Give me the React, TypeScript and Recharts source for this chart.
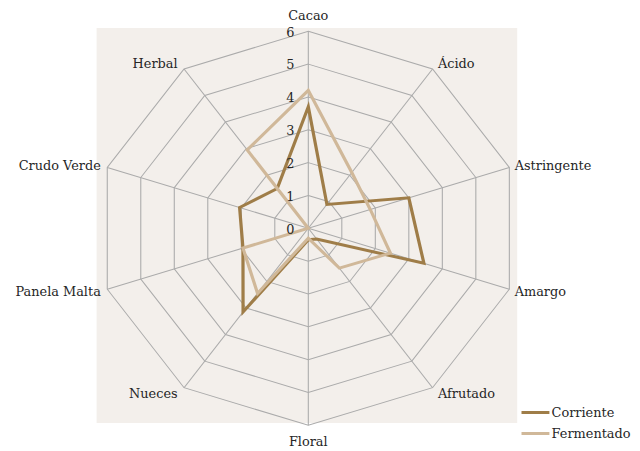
import React from 'react';
import { RadarChart, Radar, PolarGrid, PolarAngleAxis, PolarRadiusAxis, Legend } from 'recharts';

const attributes = ['Cacao', 'Ácido', 'Astringente', 'Amargo', 'Afrutado', 'Floral', 'Nueces', 'Panela Malta', 'Crudo Verde', 'Herbal'];
const corriente = [3.7, 0.9, 3.0, 3.45, 0.4, 0.35, 3.15, 1.95, 2.05, 1.5];
const fermentado = [4.2, 2.1, 1.85, 2.45, 1.5, 0.3, 2.45, 1.95, 0.0, 2.95];
const radiusTicks = [0, 1, 2, 3, 4, 5, 6];
const seriesNames = ['Corriente', 'Fermentado'];
const seriesColors = ['#9f7d48', '#d0b899'];

const data = attributes.map((a, i) => ({ attr: a, Corriente: corriente[i], Fermentado: fermentado[i] }));

const W = 640;
const H = 451;
const CX = 308.3;
const CY = 228.3;
const R = 197;
const SX = 1.073;
const FONT = '"DejaVu Serif", "Liberation Serif", serif';
const TEXT = '#262626';

const AngleTick = (props: any) => {
  const { payload } = props;
  const cx = props.cx ?? CX;
  const cy = props.cy ?? CY;
  const r = props.radius ?? R;
  const a = (payload.coordinate * Math.PI) / 180;
  const c = Math.cos(a);
  const s = Math.sin(a);
  const vx = cx + r * c;
  const vy = cy - r * s;
  let anchor: any = 'middle';
  let x = vx;
  let y = vy;
  if (Math.abs(c) < 1e-3) {
    y = vy + (s > 0 ? -16 : 16);
  } else {
    anchor = c > 0 ? 'start' : 'end';
    x = vx + (c > 0 ? 5 : -6);
    y = vy - s * 7;
  }
  return (
    <text x={x} y={y} textAnchor={anchor} dominantBaseline="central" fontFamily={FONT} fontSize={12} fill={TEXT}>
      {payload.value}
    </text>
  );
};

const RadiusTick = (props: any) => {
  const { x, y, payload } = props;
  return (
    <text x={x - 13} y={y + 1} textAnchor="end" dominantBaseline="central" fontFamily={FONT} fontSize={12} fill={TEXT}>
      {payload.value}
    </text>
  );
};

const LegendContent = () => (
  <div style={{ fontFamily: FONT, fontSize: 12, color: TEXT }}>
    {seriesNames.map((n, i) => (
      <div key={n} style={{ display: 'flex', alignItems: 'center', height: 21 }}>
        <span style={{ display: 'inline-block', width: 26, height: 3, background: seriesColors[i] }} />
        <span style={{ marginLeft: 2 }}>{n}</span>
      </div>
    ))}
  </div>
);

export default function App() {
  return (
    <div style={{ position: 'absolute', left: 0, top: 0, width: W, height: H, overflow: 'hidden', background: '#ffffff' }}>
      <div style={{ position: 'absolute', left: 0, top: 0, width: W, height: H, transform: `scaleX(${SX})`, transformOrigin: `${CX}px 0px` }}>
        <div style={{ position: 'absolute', left: CX - R, top: CY - R - 3, width: 2 * R - 2, height: 2 * R + 1, background: '#f3efeb' }} />
        <div style={{ position: 'absolute', left: 0, top: 0 }}>
          <RadarChart width={W} height={H} data={data} cx={CX} cy={CY} outerRadius={R} margin={{ top: 0, right: 0, bottom: 0, left: 0 }}>
            <PolarGrid gridType="polygon" stroke="#ababab" strokeWidth={1} />
            <PolarAngleAxis dataKey="attr" tick={<AngleTick />} tickLine={false} axisLine={false} />
            <PolarRadiusAxis angle={90} domain={[0, 6]} ticks={radiusTicks as any} tickCount={7} axisLine={false} tickLine={false} tick={<RadiusTick />} />
            <Radar name={seriesNames[0]} dataKey="Corriente" stroke={seriesColors[0]} strokeWidth={3} fill="none" fillOpacity={0} dot={false} isAnimationActive={false} />
            <Radar name={seriesNames[1]} dataKey="Fermentado" stroke={seriesColors[1]} strokeWidth={3} fill="none" fillOpacity={0} dot={false} isAnimationActive={false} />
            <Legend content={<LegendContent />} wrapperStyle={{ position: 'absolute', left: 507, top: 402, width: 130 }} />
          </RadarChart>
        </div>
      </div>
    </div>
  );
}
